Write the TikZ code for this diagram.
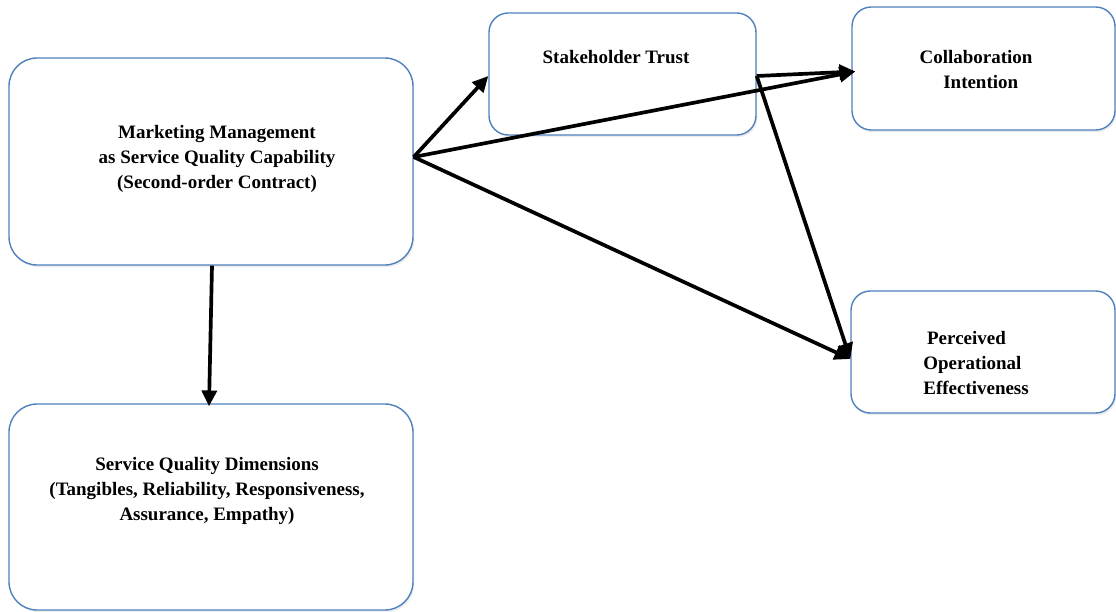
\documentclass[tikz,border=0pt]{standalone}
\usepackage{fontspec}
\setmainfont{Liberation Serif}
\usepackage{tikz}
\usetikzlibrary{arrows.meta,positioning,shadows}
\definecolor{boxblue}{RGB}{79,129,189}

\begin{document}
\begin{tikzpicture}[x=0.02cm, y=-0.02cm, font=\fontsize{10.8}{14.2}\selectfont\bfseries,
	cbox/.style={draw=boxblue, line width=0.8pt, fill=white, rounded corners=#1, inner sep=0pt,
		drop shadow={opacity=0.15, shadow xshift=0.8pt, shadow yshift=-1.2pt}},
	cbox/.default=11pt,
	link/.style={-{Triangle[length=9pt,width=8.5pt]}, line width=2.1pt, black}]

		\useasboundingbox (0,0) rectangle (1116,612);

		\node[cbox=16pt, minimum width=404*0.02cm, minimum height=207*0.02cm] (mm) at (211,161.5) {};
		\node[cbox=16pt, minimum width=404*0.02cm, minimum height=206*0.02cm] (sqd) at (211,507) {};
		\node[cbox, minimum width=267*0.02cm, minimum height=122*0.02cm] (st) at (622.5,74) {};
		\node[cbox, minimum width=263*0.02cm, minimum height=123*0.02cm] (ci) at (983.5,68.5) {};
		\node[cbox, minimum width=264*0.02cm, minimum height=122*0.02cm] (poe) at (983,352) {};

		\node[align=center] (mmtext) at (217,158.5) {Marketing Management\\as Service Quality Capability\\(Second-order Contract)};
		\node[align=center] (sqdtext) at (207,491) {Service Quality Dimensions\\(Tangibles, Reliability, Responsiveness,\\Assurance, Empathy)};
		\node (sttext) at (616,57) {Stakeholder Trust};
		\node[align=center] (citext) at (976,69.5) {Collaboration\\\hspace{0.5em}Intention};
		\node[align=left, anchor=west, inner sep=0pt] (poetext) at (923,363) {\hspace{0.2em}Perceived\\Operational\\Effectiveness};

		\coordinate (mmout) at ([yshift=4.5*0.02cm]mm.east);
		\coordinate (stout) at ([yshift=-2*0.02cm]st.east);
		\coordinate (stin) at ([yshift=-2*0.02cm]st.west);
		\coordinate (ciin) at ([xshift=4*0.02cm, yshift=-3*0.02cm]ci.west);
		\coordinate (poein) at ([yshift=-7*0.02cm]poe.west);
		\coordinate (mmdown) at ([xshift=1*0.02cm]mm.south);
		\coordinate (sqdin) at ([xshift=-2*0.02cm, yshift=-3*0.02cm]sqd.north);

		\draw[link] (mmout) -- (stin);
		\draw[link] (mmout) -- (ciin);
		\draw[link] (mmout) -- (poein);
		\draw[link] (stout) -- (ciin);
		\draw[link] (stout) -- (poein);
		\draw[link] (mmdown) -- (sqdin);

\end{tikzpicture}
\end{document}
